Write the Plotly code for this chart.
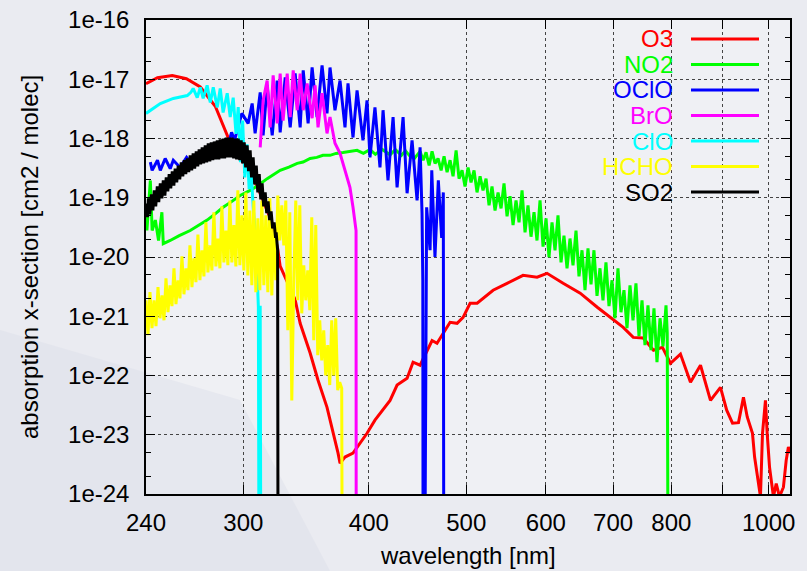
import plotly.graph_objects as go

# ---- absorption cross-sections [cm2 / molec] vs wavelength [nm] ----
O3_WL = [240.0, 246.4, 254.9, 263.3, 271.8, 281.3, 290.0, 300.0, 310.0, 320.0, 324.5, 326.4,
         337.8, 341.7, 349.6, 356.0, 363.4, 367.6, 372.7, 374.4, 378.7, 385.7, 391.9,
         398.3, 405.6, 413.2, 419.9, 426.7, 436.6, 442.6, 449.8, 462.3, 467.6, 481.8,
         489.6, 496.4, 504.4, 512.6, 531.7, 549.0, 563.0, 569.5, 588.1, 601.7, 624.3,
         649.2, 675.1, 700.3, 716.5, 733.1, 750.1, 767.9, 783.9, 798.4, 816.9, 835.9,
         855.3, 875.1, 895.4, 908.2, 920.4, 933.1, 943.8, 952.0, 963.5, 968.2, 974.9,
         981.3, 985.9, 992.6, 996.5, 1002.0, 1010.9, 1017.4, 1025.0, 1034.3, 1040.9,
         1046.2, 1051.0]
O3_XS = [8.4e-18, 1.06e-17, 1.16e-17, 1.02e-17, 7.4e-18, 3.5e-18, 1.0e-18, 4.0e-19, 1.5e-19,
         4.0e-20, 1.4e-20, 7e-21, 1.9e-21, 7.6e-22, 2.4e-22, 8.3e-23, 2.9e-23, 1.34e-23, 4.9e-24,
         3.3e-24, 4.2e-24, 4.9e-24, 7.2e-24, 1.06e-23, 1.76e-23, 2.6e-23, 3.8e-23, 6.9e-23,
         9.0e-23, 1.68e-22, 1.49e-22, 3.9e-22, 3.5e-22, 7.9e-22, 7.6e-22, 9.6e-22, 1.66e-21,
         1.66e-21, 2.75e-21, 3.6e-21, 4.4e-21, 4.9e-21, 4.55e-21, 5.3e-21, 3.6e-21, 2.45e-21,
         1.42e-21, 8.6e-22, 6.5e-22, 4.4e-22, 4.3e-22, 2.67e-22, 3.0e-22, 1.61e-22, 2.3e-22,
         7.7e-23, 1.49e-22, 3.8e-23, 6.3e-23, 2.6e-23, 1.57e-23, 1.6e-23, 4.3e-23, 2.0e-23,
         1.06e-23, 4.2e-24, 1.96e-24, 9e-25, 1.06e-23, 3.8e-23, 1.06e-23, 2.8e-24, 9e-25,
         1.5e-24, 9e-25, 1.3e-24, 3.7e-24, 6.2e-24, 4.9e-24]

NO2_WL = [240.0, 240.5, 242.4, 243.4, 245.2, 247.0, 248.9, 249.7, 253.7, 259.0, 265.6,
          271.0, 276.1, 281.0, 286.4, 292.0, 297.8, 304.7, 310.0, 316.8, 321.0, 326.4,
          333.0, 339.4, 344.0, 349.6, 355.0, 360.0, 365.9, 371.0, 377.0, 383.0, 389.3,
          395.0, 401.0, 406.0, 412.0, 419.9, 425.0, 431.0, 435.0, 439.6, 444.0,
          449.8, 452.9, 456.0, 459.2, 462.3, 465.5, 468.7, 472.0, 475.2, 478.5, 481.8,
          485.1, 488.5, 491.8, 495.2, 498.6, 502.1, 505.5, 509.0, 512.5, 516.1, 519.6,
          523.2, 526.8, 530.4, 534.1, 537.8, 541.5, 545.2, 549.0, 552.8, 556.6, 560.4,
          564.3, 568.2, 572.1, 576.0, 580.0, 584.0, 588.0, 592.1, 596.2, 600.3, 604.4,
          608.6, 612.8, 617.0, 621.3, 625.5, 629.9, 634.2, 638.6, 643.0, 647.4, 651.9,
          656.4, 660.9, 665.5, 670.0, 674.7, 679.3, 684.0, 688.7, 693.5, 698.3, 703.1,
          707.9, 712.8, 717.7, 722.7, 727.7, 732.7, 737.7, 742.8, 748.0, 753.1, 758.3,
          763.6, 768.8, 774.1, 779.5, 784.9, 790.3, 792.5, 794.7]
NO2_XS = [6.1e-20, 2.8e-20, 1.96e-19, 2.8e-20, 4.2e-20, 1.9e-20, 5.7e-20, 1.68e-20, 1.9e-20,
          2.3e-20, 2.8e-20, 3.4e-20, 4.2e-20, 5.3e-20, 6.9e-20, 8.6e-20, 1.09e-19, 1.33e-19,
          1.6e-19, 2.1e-19, 2.4e-19, 2.9e-19, 3.3e-19, 3.8e-19, 4.0e-19, 4.6e-19, 4.8e-19,
          5.2e-19, 5.2e-19, 5.6e-19, 5.8e-19, 6.0e-19, 6.3e-19, 5.6e-19, 6.5e-19, 5.4e-19,
          6.6e-19, 5.3e-19, 6.5e-19, 5.2e-19, 6.2e-19, 5.0e-19, 4.6e-19,
          6.05e-19, 4.3e-19, 5.85e-19, 3.5e-19, 6.05e-19, 3.8e-19, 4.6e-19, 2.9e-19, 5.0e-19,
          2.7e-19, 4.3e-19, 2.3e-19, 6.3e-19, 2.1e-19, 2.9e-19, 1.55e-19, 3.25e-19, 1.82e-19,
          2.9e-19, 1.23e-19, 2.3e-19, 1.33e-19, 2.1e-19, 7.45e-20, 1.55e-19, 6.1e-20, 1.23e-19,
          6.6e-20, 1.75e-19, 4.85e-20, 1.06e-19, 3.45e-20, 9.0e-20, 3.85e-20, 1.33e-19, 2.6e-20,
          7.45e-20, 2.2e-20, 5.7e-20, 1.9e-20, 9.0e-20, 1.5e-20, 4.5e-20, 9.9e-21, 3.85e-20,
          1.3e-20, 5.05e-20, 8.1e-21, 2.3e-20, 6.45e-21, 2.05e-20, 7.25e-21, 2.8e-20, 4.7e-21,
          1.3e-20, 2.75e-21, 1.4e-20, 3.45e-21, 1.3e-20, 2.2e-21, 6.45e-21, 1.86e-21, 8.1e-21,
          1.48e-21, 4.05e-21, 9.25e-22, 6.45e-21, 1.17e-21, 2.75e-21, 6.3e-22, 3.33e-21,
          8.55e-22, 3.6e-21, 4.6e-22, 1.86e-21, 3.25e-22, 1.53e-21, 2.67e-22, 1.36e-21,
          1.68e-22, 9.25e-22, 3.1e-22, 1.53e-21, 5.2e-22, 1e-27]

OCLO_WL = [242.4, 243.4, 246.4, 248.0, 250.8, 253.7, 255.5, 259.5, 263.4, 266.2, 269.2,
           272.0, 274.5, 277.3, 282.2, 285.0, 288.0, 290.0, 292.0, 294.0, 296.5, 299.0,
           303.3, 306.1, 308.2, 311.8, 313.9, 316.8, 320.5, 324.2, 326.4, 330.2, 334.0,
           337.8, 341.7, 344.1, 348.0, 351.2, 355.2, 359.3, 363.4, 365.9, 370.1, 374.4,
           378.7, 381.3, 385.7, 389.3, 394.6, 398.3, 401.0, 405.6, 410.3, 413.2, 417.9,
           422.8, 426.7, 432.6, 436.6, 441.6, 446.7, 449.8, 451.8, 452.6, 453.0, 454.2,
           456.6, 460.2, 462.0, 465.4, 469.0, 472.6, 474.4, 475.0, 476.2]
OCLO_XS = [4.0e-19, 2.9e-19, 4.3e-19, 2.9e-19, 4.6e-19, 3.1e-19, 4.3e-19, 3.25e-19, 4.8e-19,
           3.8e-19, 5.2e-19, 4.3e-19, 6.3e-19, 5.2e-19, 7.65e-19, 6.8e-19, 9.3e-19, 8.3e-19,
           1.27e-18, 9.3e-19, 1.6e-18, 2.65e-18, 1.8e-18, 3.9e-18, 1.22e-18, 6.0e-18, 1.13e-18,
           7.9e-18, 1.13e-18, 9.5e-18, 1.27e-18, 1.07e-17, 1.54e-18, 1.25e-17, 1.54e-18,
           1.41e-17, 1.8e-18, 1.58e-17, 2.3e-18, 1.71e-17, 2.65e-18, 1.58e-17, 3.0e-18, 9.5e-18,
           1.54e-18, 8.5e-18, 1.04e-18, 6.5e-18, 9.3e-19, 4.4e-18, 4.8e-19, 3.35e-18, 3.25e-19,
           3.0e-18, 1.96e-19, 2.3e-18, 1.5e-19, 2.3e-18, 1.19e-19, 9.3e-19, 9.0e-20, 7.1e-19,
           5.5e-20, 4.0e-21, 1e-27, 1e-27, 6.9e-20, 1.3e-20, 2.9e-19, 1.0e-20, 1.96e-19, 2.1e-20,
           1.23e-19, 1e-27, 1e-27]

BRO_WL = [311.8, 313.9, 316.8, 319.0, 321.2, 324.2, 326.4, 328.6, 331.7, 334.0, 336.3,
          339.4, 341.7, 344.1, 347.2, 351.2, 353.6, 356.0, 359.3, 363.4, 365.9, 370.1,
          374.4, 378.7, 383.0, 385.7, 388.4, 388.6]
BRO_XS = [7.1e-19, 4.4e-18, 9.5e-18, 1.54e-18, 1.16e-17, 1.8e-18, 1.25e-17, 2.0e-18, 1.25e-17,
          2.3e-18, 1.41e-17, 3.0e-18, 1.25e-17, 3.0e-18, 8.5e-18, 2.2e-18, 7.9e-18, 1.54e-18,
          5.8e-18, 1.22e-18, 2.3e-18, 8.3e-19, 5.6e-19, 2.9e-19, 1.5e-19, 6.9e-20, 2.8e-20,
          1e-27]

CLO_WL = [240.0, 248.0, 255.5, 263.8, 266.0, 267.4, 269.9, 271.8, 273.6, 276.1, 278.1,
          280.0, 282.6, 284.5, 286.4, 289.1, 291.1, 293.1, 295.0, 296.5, 298.0, 299.5,
          301.0, 302.5, 304.0, 305.5, 307.0, 308.2, 309.4, 309.8, 310.5, 311.1, 311.8, 312.4]
CLO_XS = [2.65e-18, 3.9e-18, 4.75e-18, 5.3e-18, 6.0e-18, 7.0e-18, 4.9e-18, 7.3e-18, 4.75e-18,
          7.9e-18, 4.06e-18, 7.3e-18, 3.35e-18, 7.0e-18, 2.75e-18, 5.8e-18, 2.3e-18, 4.9e-18,
          1.2e-18, 3.4e-18, 4e-19, 2.0e-18, 2.2e-19, 8e-19, 1.4e-19, 2.5e-19, 6e-20, 3.2e-20,
          1.3e-20, 4.0e-21, 1.42e-21, 1e-27, 1.5e-21, 1e-27]

HCHO_WL = [240.00, 241.10, 242.21, 243.32, 244.44, 245.56, 246.69, 247.82, 248.96, 250.10,
           251.25, 252.40, 253.56, 254.72, 255.89, 257.06, 258.24, 259.42, 260.61, 261.81,
           263.01, 264.22, 265.43, 266.65, 267.87, 269.10, 270.33, 271.57, 272.82, 274.07,
           275.33, 276.59, 277.86, 279.13, 280.41, 281.70, 282.99, 284.29, 285.59, 286.90,
           288.22, 289.54, 290.87, 292.20, 293.54, 294.89, 296.24, 297.60, 298.97, 300.34,
           301.72, 303.10, 304.49, 305.89, 307.29, 308.70, 310.12, 311.54, 312.97, 314.41,
           315.85, 317.30, 318.75, 320.21, 321.68, 323.16, 324.64, 326.13, 327.63, 329.13,
           330.64, 332.16, 333.68, 335.21, 336.75, 338.29, 339.85, 341.41, 342.97, 344.55,
           346.13, 347.71, 349.31, 350.91, 352.52, 354.14, 355.76, 357.39, 359.03, 360.68,
           362.33, 363.99, 365.66, 367.34, 369.03, 370.72, 372.42, 374.12, 375.84, 376.5]
HCHO_XS = [1.86e-21, 4.8e-22, 2.55e-21, 6.3e-22, 1.86e-21, 6.8e-22, 3.1e-21, 9.25e-22, 2.25e-21,
           8.55e-22, 4.35e-21, 1.17e-21, 3.33e-21, 1.48e-21, 6.45e-21, 1.6e-21, 4.05e-21, 2.0e-21,
           1.03e-20, 2.35e-21, 6.45e-21, 2.75e-21, 1.57e-20, 3.1e-21, 9.5e-21, 3.75e-21, 2.4e-20,
           4.05e-21, 1.3e-20, 4.7e-21, 3.85e-20, 5.5e-21, 1.57e-20, 5.95e-21, 5.7e-20, 6.95e-21,
           2.05e-20, 6.45e-21, 7.15e-20, 8.1e-21, 2.8e-20, 7.25e-21, 9.0e-20, 8.1e-21, 3.45e-20,
           6.95e-21, 1.33e-19, 7.25e-21, 5.05e-20, 5.95e-21, 1.23e-19, 4.9e-21, 6.1e-20, 3.33e-21,
           9.0e-20, 2.55e-21, 4.5e-20, 2.75e-21, 9.0e-20, 3.33e-21, 5.05e-20, 2.55e-21, 9.8e-20,
           2.25e-21, 3.45e-20, 4.05e-21, 1.09e-19, 1.9e-20, 7.45e-20, 1.57e-20, 9.0e-20, 5.8e-22,
           5.7e-20, 3.8e-23, 4.05e-21, 9.0e-20, 1.86e-21, 7.45e-20, 1.12e-21, 7.25e-21, 1.86e-21,
           5.95e-21, 1.27e-21, 4.7e-20, 3.95e-22, 3.45e-20, 2.2e-22, 8.55e-22, 1.8e-22, 5.8e-22,
           1.0e-22, 3.25e-22, 6.9e-23, 8.55e-22, 1.0e-22, 9.25e-22, 5.65e-23, 7.7e-23, 6.1e-23,
           1e-27]

SO2_WL = [240.0, 240.8, 241.3, 242.1, 243.0, 243.8, 244.6, 245.4, 246.3, 247.1, 248.0, 248.9,
          249.7, 250.6, 251.4, 252.3, 253.1, 254.0, 254.9, 255.8, 256.6, 257.5, 258.4, 259.3,
          260.2, 261.1, 262.0, 262.9, 263.8, 264.7, 265.6, 266.5, 267.4, 268.3, 269.3, 270.2,
          271.1, 272.0, 273.0, 273.9, 274.9, 275.8, 276.8, 277.8, 278.7, 279.7, 280.6, 281.6,
          282.6, 283.6, 284.5, 285.5, 286.4, 287.4, 288.4, 289.4, 290.4, 291.4, 292.4, 293.4,
          294.4, 295.4, 296.5, 297.5, 298.5, 299.5, 300.6, 301.6, 302.6, 303.6, 304.7, 305.7,
          306.8, 307.9, 309.0, 310.1, 311.1, 312.2, 313.2, 314.3, 315.4, 316.5, 317.5, 318.6,
          319.7, 320.8, 321.9, 323.0, 323.4, 324.0, 324.5, 324.9]
SO2_XS = [8.0e-20, 4.7e-20, 9.8e-20, 5.25e-20, 1.14e-19, 6.1e-20, 1.33e-19, 7.15e-20, 1.55e-19,
          8.4e-20, 1.75e-19, 9.8e-20, 1.96e-19, 1.09e-19, 2.2e-19, 1.28e-19, 2.5e-19, 1.44e-19,
          2.8e-19, 1.6e-19, 3.1e-19, 1.82e-19, 3.5e-19, 2.05e-19, 3.95e-19, 2.3e-19, 4.3e-19,
          2.5e-19, 4.6e-19, 2.7e-19, 5.2e-19, 2.9e-19, 5.6e-19, 3.1e-19, 6.05e-19, 3.4e-19,
          6.55e-19, 3.65e-19, 7.1e-19, 3.8e-19, 7.65e-19, 3.95e-19, 8.3e-19, 4.1e-19, 8.6e-19,
          4.3e-19, 8.9e-19, 4.45e-19, 9.3e-19, 4.45e-19, 9.7e-19, 4.6e-19, 1.0e-18, 4.6e-19,
          1.04e-18, 4.8e-19, 1.04e-18, 4.8e-19, 1.04e-18, 4.6e-19, 1.0e-18, 4.45e-19, 1.0e-18,
          4.3e-19, 9.3e-19, 3.8e-19, 8.6e-19, 3.25e-19, 7.65e-19, 2.8e-19, 6.3e-19, 2.2e-19,
          4.8e-19, 1.68e-19, 3.5e-19, 1.23e-19, 2.5e-19, 9.4e-20, 1.75e-19, 7.15e-20, 1.23e-19,
          5.5e-20, 8.7e-20, 4.2e-20, 5.9e-20, 3.05e-20, 3.85e-20, 2.1e-20, 2.6e-20, 1.5e-20,
          1.3e-20, 1e-27]

SPECIES = ["O3", "NO2", "OClO", "BrO", "ClO", "HCHO", "SO2"]
COLORS = ["#ff0000", "#00ff00", "#0000ff", "#ff00ff", "#00ffff", "#ffff00", "#000000"]
SERIES = [(O3_WL, O3_XS), (NO2_WL, NO2_XS), (OCLO_WL, OCLO_XS), (BRO_WL, BRO_XS),
          (CLO_WL, CLO_XS), (HCHO_WL, HCHO_XS), (SO2_WL, SO2_XS)]

X_TICKS = [240, 300, 400, 500, 600, 700, 800, 900, 1000]
X_TICK_LABELS = ["240", "300", "400", "500", "600", "700", "800", "", "1000"]
Y_TICKS = [1e-24, 1e-23, 1e-22, 1e-21, 1e-20, 1e-19, 1e-18, 1e-17, 1e-16]
Y_TICK_LABELS = ["1e-24", "1e-23", "1e-22", "1e-21", "1e-20", "1e-19", "1e-18", "1e-17", "1e-16"]

FONT = "Liberation Sans, Arial, Helvetica, sans-serif"
W, H = 807, 571
ML, MR, MT, MB = 146, 17, 20, 77
plot_w = W - ML - MR
plot_h = H - MT - MB


def px_x(px):
    return (px - ML) / plot_w


def px_y(py):
    return (H - MB - py) / plot_h


fig = go.Figure()
for name, color, (wl, xs) in zip(SPECIES, COLORS, SERIES):
    fig.add_trace(go.Scatter(x=wl, y=xs, mode="lines", name=name, showlegend=False,
                             line=dict(color=color, width=3)))

# faint lavender tone in the lower-left corner of the page
shapes = [
    dict(type="path", xref="paper", yref="paper", layer="below",
         path=f"M {px_x(0)},{px_y(330)} L {px_x(240)},{px_y(400)} L {px_x(330)},{px_y(571)} "
              f"L {px_x(0)},{px_y(571)} Z",
         fillcolor="#dcdde9", line=dict(width=0), opacity=0.45),
]
annos = []

# legend: series name (right aligned) followed by a line sample
for i, (name, color) in enumerate(zip(SPECIES, COLORS)):
    ypx = 39 + 25.5 * i
    annos.append(dict(x=px_x(675), y=px_y(ypx), xref="paper", yref="paper", text=name,
                      showarrow=False, xanchor="right", yanchor="middle",
                      font=dict(family=FONT, size=24, color=color)))
    shapes.append(dict(type="line", xref="paper", yref="paper",
                       x0=px_x(691), x1=px_x(759), y0=px_y(ypx), y1=px_y(ypx),
                       line=dict(color=color, width=3)))

annos.append(dict(x=px_x(468), y=px_y(555), xref="paper", yref="paper",
                  text="wavelength [nm]", showarrow=False, xanchor="center", yanchor="middle",
                  font=dict(family=FONT, size=24, color="black")))
annos.append(dict(x=px_x(29), y=px_y(257), xref="paper", yref="paper",
                  text="absorption x-section [cm2 / molec]", showarrow=False, textangle=-90,
                  xanchor="center", yanchor="middle",
                  font=dict(family=FONT, size=24, color="black")))

axis_common = dict(showline=True, linecolor="black", linewidth=1.5, mirror="ticks",
                   ticks="inside", ticklen=9, tickwidth=1, tickcolor="black",
                   showgrid=True, gridcolor="#444444", griddash="dot", gridwidth=1,
                   zeroline=False, automargin=False,
                   tickfont=dict(family=FONT, size=24, color="black"))

fig.update_layout(
    width=W, height=H,
    margin=dict(l=ML, r=MR, t=MT, b=MB, autoexpand=False),
    paper_bgcolor="#eaebf1",
    plot_bgcolor="rgba(240,241,244,0.75)",
    shapes=shapes, annotations=annos,
    xaxis=dict(type="log", range=[2.380211, 3.0212], tickmode="array",
               tickvals=X_TICKS, ticktext=X_TICK_LABELS, ticklabelstandoff=6, **axis_common),
    yaxis=dict(type="log", range=[-24, -16], tickmode="array",
               tickvals=Y_TICKS, ticktext=Y_TICK_LABELS, ticklabelstandoff=10,
               minor=dict(ticks="inside", ticklen=5, tickcolor="black", dtick="D2",
                          showgrid=False),
               **axis_common),
)

fig.write_html("out.html")
